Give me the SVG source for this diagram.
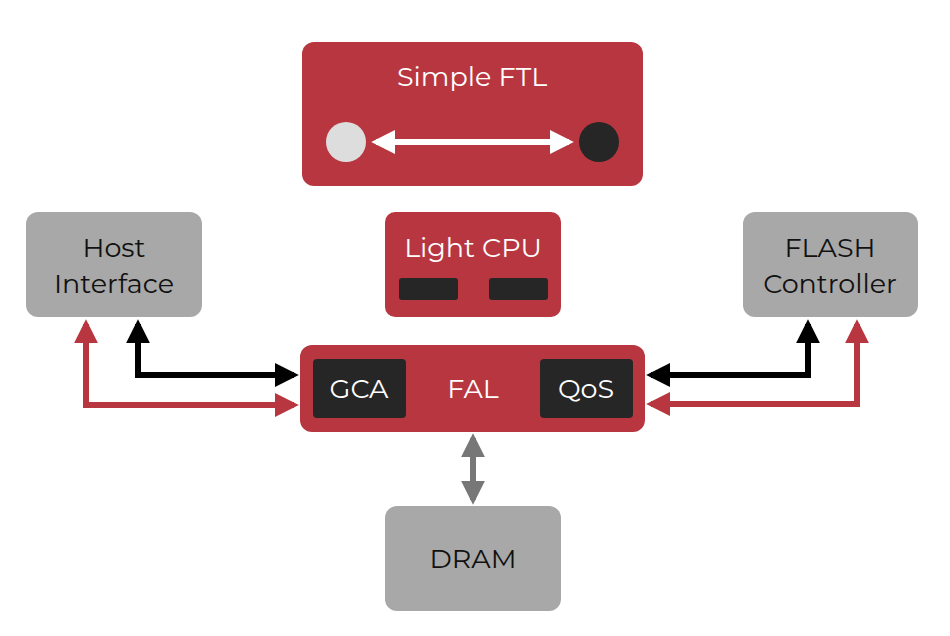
<svg xmlns="http://www.w3.org/2000/svg" width="950" height="636" viewBox="0 0 950 636">
<style>
.red{fill:#b8363f}.gray{fill:#a8a8a8}.dk{fill:#262626}
text{font-family:Montserrat,"Open Sans","Liberation Sans",sans-serif;text-anchor:middle}
.w{fill:#fff;font-size:27px}.b{fill:#111;font-size:27px}
</style>
<defs>
<marker id="ak" viewBox="0 0 10 10" refX="8" refY="5" markerWidth="4" markerHeight="4" orient="auto-start-reverse" markerUnits="strokeWidth"><path d="M0,0L10,5L0,10z" fill="#000"/></marker>
<marker id="ar" viewBox="0 0 10 10" refX="8" refY="5" markerWidth="4" markerHeight="4" orient="auto-start-reverse" markerUnits="strokeWidth"><path d="M0,0L10,5L0,10z" fill="#b8363f"/></marker>
<marker id="aw" viewBox="0 0 10 10" refX="8" refY="5" markerWidth="4" markerHeight="4" orient="auto-start-reverse" markerUnits="strokeWidth"><path d="M0,0L10,5L0,10z" fill="#fff"/></marker>
<marker id="ag" viewBox="0 0 10 10" refX="8" refY="5" markerWidth="4" markerHeight="4" orient="auto-start-reverse" markerUnits="strokeWidth"><path d="M0,0L10,5L0,10z" fill="#777"/></marker>
</defs>
<g id="ftl"><rect class="red" x="302" y="42" width="341" height="144" rx="12"/><text class="w" x="472" y="86">Simple FTL</text>
<circle cx="346" cy="142" r="20" fill="#ddd"/><circle cx="599" cy="142" r="20" class="dk"/>
<line x1="376" y1="142" x2="569" y2="142" stroke="#fff" stroke-width="6" marker-start="url(#aw)" marker-end="url(#aw)"/></g>
<g id="cpu"><rect class="red" x="385" y="212" width="176" height="105" rx="10"/><text class="w" x="473" y="257">Light CPU</text>
<rect class="dk" x="399" y="278" width="59" height="22" rx="3"/><rect class="dk" x="489" y="278" width="59" height="22" rx="3"/></g>
<g id="host"><rect class="gray" x="26" y="212" width="176" height="105" rx="12"/><text class="b" x="114" y="257">Host</text><text class="b" x="114" y="293">Interface</text></g>
<g id="flash"><rect class="gray" x="743" y="212" width="175" height="105" rx="12"/><text class="b" x="830" y="257">FLASH</text><text class="b" x="830" y="293">Controller</text></g>
<g id="fal"><rect class="red" x="300" y="345" width="345" height="87" rx="12"/>
<rect class="dk" x="313" y="359" width="93" height="59" rx="4"/><text class="w" x="359" y="398">GCA</text>
<text class="w" x="473" y="398">FAL</text>
<rect class="dk" x="540" y="359" width="93" height="59" rx="4"/><text class="w" x="586" y="398">QoS</text></g>
<g id="dram"><rect class="gray" x="385" y="506" width="176" height="105" rx="12"/><text class="b" x="473" y="568">DRAM</text></g>
<g id="connectors" fill="none" stroke-width="6">
<polyline points="138,324 138,375 294,375" stroke="#000" marker-start="url(#ak)" marker-end="url(#ak)"/>
<polyline points="86,324 86,405 294,405" stroke="#b8363f" marker-start="url(#ar)" marker-end="url(#ar)"/>
<polyline points="808,324 808,375 651,375" stroke="#000" marker-start="url(#ak)" marker-end="url(#ak)"/>
<polyline points="857,324 857,404 651,404" stroke="#b8363f" marker-start="url(#ar)" marker-end="url(#ar)"/>
<line x1="473" y1="438" x2="473" y2="500" stroke="#777" marker-start="url(#ag)" marker-end="url(#ag)"/>
</g>
</svg>
